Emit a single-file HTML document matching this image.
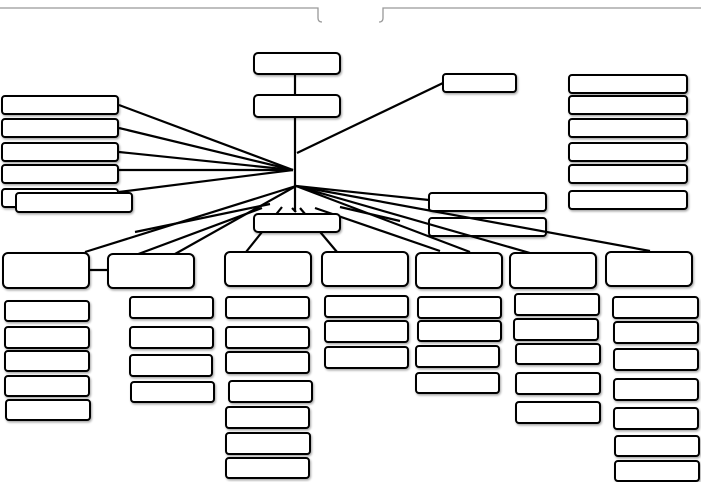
<!DOCTYPE html>
<html><head><style>body{margin:0;background:#fff}svg{display:block}</style></head><body>
<svg width="701" height="482" viewBox="0 0 701 482" xmlns="http://www.w3.org/2000/svg">
<defs><filter id="s" x="-10%" y="-20%" width="130%" height="160%"><feDropShadow dx="1" dy="1.5" stdDeviation="1" flood-color="#000" flood-opacity="0.35"/></filter></defs>
<g stroke="#999" stroke-width="1.3" fill="none">
<path d="M0 8 H318 V18 Q318 22 322 22"/><path d="M701 8 H383 V18 Q383 22 379 22"/>
</g>
<g stroke="#000" stroke-width="2.2" fill="none">
<line x1="295" y1="74" x2="295" y2="95"/>
<line x1="295" y1="117" x2="295" y2="212"/>
<line x1="297" y1="153" x2="443" y2="83"/>
<line x1="119" y1="105" x2="293" y2="170"/>
<line x1="119" y1="128" x2="293" y2="170"/>
<line x1="119" y1="152" x2="293" y2="170"/>
<line x1="119" y1="170" x2="293" y2="170"/>
<line x1="119" y1="192" x2="293" y2="170"/>
<line x1="296" y1="186" x2="429" y2="200"/>
<line x1="296" y1="186" x2="85" y2="252"/>
<line x1="296" y1="186" x2="175" y2="254"/>
<line x1="270" y1="204" x2="135" y2="232"/>
<line x1="262" y1="208" x2="133" y2="256"/>
<line x1="282" y1="207" x2="246" y2="252"/>
<line x1="292" y1="208" x2="296" y2="212"/>
<line x1="300" y1="208" x2="337" y2="252"/>
<line x1="315" y1="208" x2="440" y2="251"/>
<line x1="340" y1="207" x2="400" y2="221"/>
<line x1="89" y1="270" x2="108" y2="270"/>
</g>
<g stroke="#000" stroke-width="2" fill="#fff" filter="url(#s)">
<rect x="254" y="53" width="86" height="21" rx="4"/>
<rect x="254" y="95" width="86" height="22" rx="4"/>
<rect x="443" y="74" width="73" height="18" rx="3"/>
<rect x="254" y="214" width="86" height="18" rx="4"/>
<rect x="2" y="96" width="116" height="18" rx="3"/>
<rect x="2" y="119" width="116" height="18" rx="3"/>
<rect x="2" y="143" width="116" height="18" rx="3"/>
<rect x="2" y="165" width="116" height="18" rx="3"/>
<rect x="2" y="189" width="116" height="18" rx="3"/>
<rect x="16" y="193" width="116" height="19" rx="3"/>
<rect x="429" y="193" width="117" height="18" rx="3"/>
<rect x="429" y="218" width="117" height="18" rx="3"/>
<rect x="569" y="75" width="118" height="18" rx="3"/>
<rect x="569" y="96" width="118" height="18" rx="3"/>
<rect x="569" y="119" width="118" height="18" rx="3"/>
<rect x="569" y="143" width="118" height="18" rx="3"/>
<rect x="569" y="165" width="118" height="18" rx="3"/>
<rect x="569" y="191" width="118" height="18" rx="3"/>
<rect x="3" y="253" width="86" height="35" rx="5"/>
<rect x="108" y="254" width="86" height="34" rx="5"/>
<rect x="225" y="252" width="86" height="34" rx="5"/>
<rect x="322" y="252" width="86" height="34" rx="5"/>
<rect x="416" y="253" width="86" height="35" rx="5"/>
<rect x="510" y="253" width="86" height="35" rx="5"/>
<rect x="606" y="252" width="86" height="34" rx="5"/>
<rect x="5" y="301" width="84" height="20" rx="3"/><rect x="5" y="327" width="84" height="21" rx="3"/><rect x="5" y="351" width="84" height="20" rx="3"/><rect x="5" y="376" width="84" height="20" rx="3"/><rect x="6" y="400" width="84" height="20" rx="3"/>
<rect x="130" y="297" width="83" height="21" rx="3"/><rect x="130" y="327" width="83" height="21" rx="3"/><rect x="130" y="355" width="82" height="21" rx="3"/><rect x="131" y="382" width="83" height="20" rx="3"/>
<rect x="226" y="297" width="83" height="21" rx="3"/><rect x="226" y="327" width="83" height="21" rx="3"/><rect x="226" y="352" width="83" height="21" rx="3"/><rect x="229" y="381" width="83" height="21" rx="3"/><rect x="226" y="407" width="83" height="21" rx="3"/><rect x="226" y="433" width="84" height="21" rx="3"/><rect x="226" y="458" width="83" height="20" rx="3"/>
<rect x="325" y="296" width="83" height="21" rx="3"/><rect x="325" y="321" width="83" height="21" rx="3"/><rect x="325" y="347" width="83" height="21" rx="3"/>
<rect x="418" y="297" width="83" height="21" rx="3"/><rect x="418" y="321" width="83" height="20" rx="3"/><rect x="416" y="346" width="83" height="21" rx="3"/><rect x="416" y="373" width="83" height="20" rx="3"/>
<rect x="515" y="294" width="84" height="21" rx="3"/><rect x="514" y="319" width="84" height="21" rx="3"/><rect x="516" y="344" width="84" height="20" rx="3"/><rect x="516" y="373" width="84" height="21" rx="3"/><rect x="516" y="402" width="84" height="21" rx="3"/>
<rect x="613" y="297" width="85" height="21" rx="3"/><rect x="614" y="322" width="84" height="21" rx="3"/><rect x="614" y="349" width="84" height="21" rx="3"/><rect x="614" y="379" width="84" height="21" rx="3"/><rect x="614" y="408" width="84" height="21" rx="3"/><rect x="615" y="436" width="84" height="20" rx="3"/><rect x="615" y="461" width="84" height="20" rx="3"/>
</g>
<g stroke="#000" stroke-width="2.2" fill="none">
<line x1="296" y1="186" x2="470" y2="252"/>
<line x1="296" y1="186" x2="530" y2="253"/>
<line x1="296" y1="186" x2="650" y2="251"/>
</g>
</svg>
</body></html>
